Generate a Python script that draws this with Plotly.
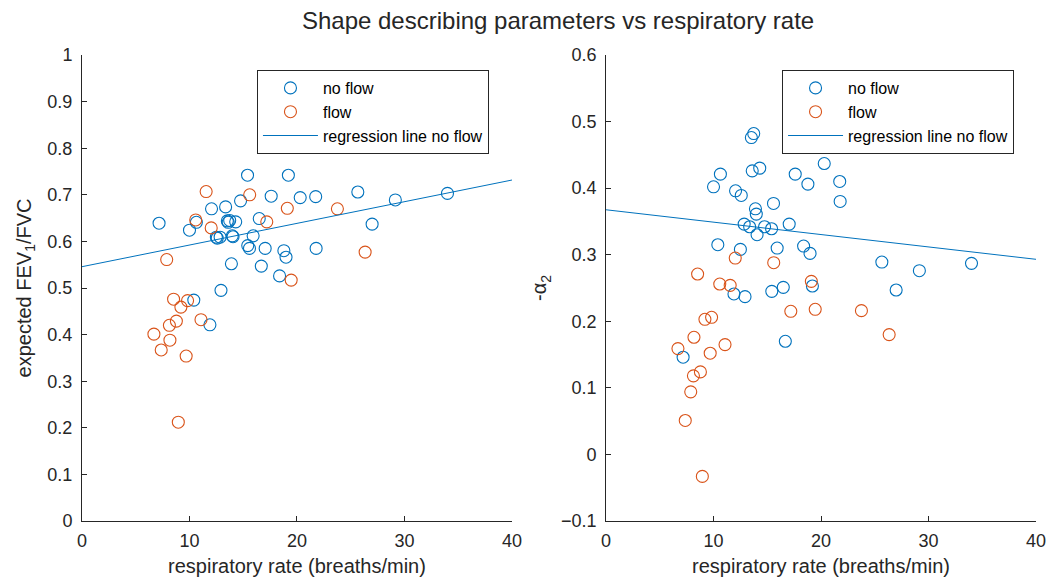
import plotly.graph_objects as go

# ---- data ----
# "no flow" subjects: respiratory rate, expected FEV1/FVC, -alpha2
nf_rate = [7.17, 10.0, 10.4, 10.64, 11.9, 12.05, 12.5, 12.58, 12.85, 12.93,
           13.36, 13.52, 13.6, 13.74, 13.9, 13.98, 14.05, 14.3, 14.75, 15.4,
           15.42, 15.58, 15.92, 16.49, 16.68, 17.04, 17.6, 18.38, 18.78, 18.98,
           19.2, 20.3, 21.74, 21.78, 25.66, 26.99, 29.15, 34.0]
nf_fev = [0.639, 0.624, 0.474, 0.641, 0.421, 0.670, 0.609, 0.607, 0.609, 0.495,
          0.674, 0.644, 0.641, 0.645, 0.552, 0.612, 0.610, 0.642, 0.687, 0.742,
          0.591, 0.585, 0.612, 0.649, 0.547, 0.585, 0.697, 0.526, 0.580, 0.566,
          0.742, 0.694, 0.696, 0.585, 0.706, 0.637, 0.689, 0.703]
nf_alpha = [0.146, 0.402, 0.315, 0.421, 0.241, 0.396, 0.308, 0.389, 0.346, 0.237,
            0.342, 0.476, 0.426, 0.482, 0.369, 0.361, 0.330, 0.430, 0.342, 0.339,
            0.245, 0.377, 0.310, 0.251, 0.170, 0.346, 0.421, 0.313, 0.406, 0.302,
            0.253, 0.437, 0.410, 0.380, 0.289, 0.247, 0.276, 0.287]

# "flow" subjects
f_rate = [6.69, 7.37, 7.88, 8.13, 8.18, 8.52, 8.78, 8.96, 9.2, 9.69, 9.82,
          10.58, 11.07, 11.55, 12.02, 15.6, 17.19, 19.1, 19.46, 23.76, 26.34]
f_fev = [0.401, 0.367, 0.561, 0.420, 0.388, 0.476, 0.429, 0.212, 0.459, 0.354, 0.473,
         0.646, 0.432, 0.707, 0.629, 0.700, 0.642, 0.671, 0.517, 0.670, 0.577]
f_alpha = [0.159, 0.051, 0.094, 0.118, 0.176, 0.271, 0.124, -0.033, 0.203, 0.152, 0.206,
           0.256, 0.165, 0.254, 0.295, 0.288, 0.215, 0.260, 0.218, 0.216, 0.180]

# regression lines (no flow): intercept, slope
reg_fev = (0.5457, 0.00465)
reg_alpha = (0.3675, -0.00186)
reg_x = [0, 40]

BLUE = "#0072BD"
ORANGE = "#D95319"
AX = "#262626"
FONT = "Liberation Sans, Arial, sans-serif"

fig = go.Figure()

def add_panel(xref, yref, legend, y_nf, y_f, reg):
    fig.add_trace(go.Scatter(
        x=nf_rate, y=y_nf, mode="markers", name="no flow",
        marker=dict(symbol="circle-open", size=12, color=BLUE, line=dict(width=1.1)),
        xaxis=xref, yaxis=yref, legend=legend))
    fig.add_trace(go.Scatter(
        x=f_rate, y=y_f, mode="markers", name="flow",
        marker=dict(symbol="circle-open", size=12, color=ORANGE, line=dict(width=1.1)),
        xaxis=xref, yaxis=yref, legend=legend))
    fig.add_trace(go.Scatter(
        x=reg_x, y=[reg[0] + reg[1] * v for v in reg_x], mode="lines",
        name="regression line no flow", line=dict(color=BLUE, width=1),
        xaxis=xref, yaxis=yref, legend=legend))

add_panel("x", "y", "legend", nf_fev, f_fev, reg_fev)
add_panel("x2", "y2", "legend2", nf_alpha, f_alpha, reg_alpha)

axis_common = dict(showline=True, linecolor=AX, linewidth=1, mirror=False,
                   ticks="inside", ticklen=5, tickcolor=AX, showgrid=False,
                   zeroline=False, automargin=False,
                   tickfont=dict(size=18, color=AX, family=FONT))
xtitle = dict(text="respiratory rate (breaths/min)", font=dict(size=20, color=AX), standoff=9)

fig.update_layout(
    width=1051, height=580,
    margin=dict(l=82, r=15, t=55, b=59),
    paper_bgcolor="white", plot_bgcolor="white",
    font=dict(family=FONT, color=AX),
    showlegend=True,
    title=dict(text="Shape describing parameters vs respiratory rate",
               x=0.531, xanchor="center", y=0.965, yanchor="middle",
               font=dict(size=24, color=AX)),
    xaxis=dict(domain=[0, 0.4507], range=[0, 40], dtick=10, ticklabelstandoff=3,
               title=xtitle, anchor="y", **axis_common),
    yaxis=dict(domain=[0, 1], range=[0, 1], dtick=0.1, ticklabelstandoff=5,
               title=dict(text="expected FEV<sub>1</sub>/FVC", font=dict(size=20, color=AX), standoff=10),
               anchor="x", **axis_common),
    xaxis2=dict(domain=[0.5493, 1], range=[0, 40], dtick=10, ticklabelstandoff=3,
                title=xtitle, anchor="y2", **axis_common),
    yaxis2=dict(domain=[0, 1], range=[-0.1, 0.6], dtick=0.1, ticklabelstandoff=5,
                title=dict(text="-α<sub>2</sub>", font=dict(size=20, color=AX), standoff=8),
                anchor="x2", **axis_common),
    legend=dict(x=0.1834, y=0.9678, xanchor="left", yanchor="top",
                bordercolor=AX, borderwidth=1, bgcolor="white", itemwidth=55,
                font=dict(size=16, color="black")),
    legend2=dict(x=0.7338, y=0.9678, xanchor="left", yanchor="top",
                 bordercolor=AX, borderwidth=1, bgcolor="white", itemwidth=55,
                 font=dict(size=16, color="black")),
)

fig.write_html("out.html")
